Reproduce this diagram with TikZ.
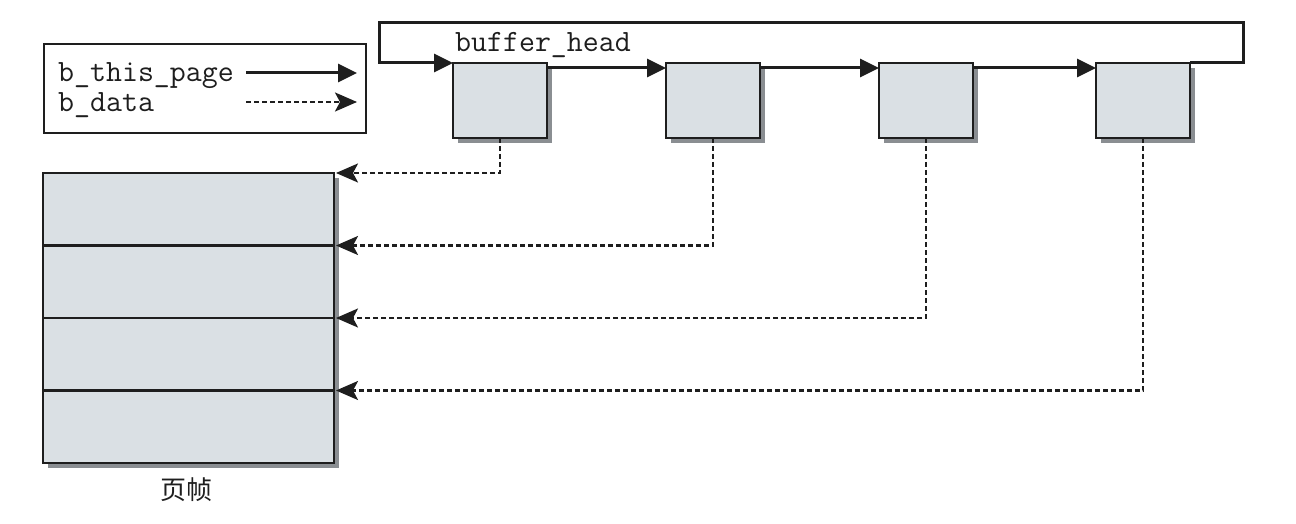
\documentclass[tikz,border=0pt]{standalone}
\usepackage{fontspec}
\newfontfamily\cjk{Noto Sans CJK SC}
\usetikzlibrary{arrows.meta,shadows,calc}
\definecolor{boxfill}{HTML}{DAE0E4}
\definecolor{shadowgray}{HTML}{8A8E92}
\definecolor{ink}{HTML}{1E1E1E}
\tikzset{
  bhbox/.style={draw=ink, line width=2.2pt, fill=boxfill, minimum width=94pt, minimum height=75pt, inner sep=0pt, outer sep=0pt,
    drop shadow={shadow xshift=5pt, shadow yshift=-5pt, opacity=1, fill=shadowgray}},
  rowbox/.style={draw=ink, line width=2.2pt, fill=boxfill, minimum width=291pt, minimum height=72.5pt, inner sep=0pt, outer sep=0pt},
  ptr/.style={draw=ink, line width=3pt, -{Triangle[length=19pt,width=18pt]}},
  dataptr/.style={draw=ink, line width=2.4pt, dash pattern=on 5pt off 3pt, -{Stealth[length=22pt,width=19pt,inset=5pt]}},
  monotext/.style={font=\ttfamily\fontsize{31}{34}\selectfont, inner sep=0pt, anchor=base west, text=ink},
}
\begin{document}
\begin{tikzpicture}[x=1pt,y=-1pt]
\useasboundingbox (0,0) rectangle (1296,524);
% legend
\node[draw=ink, line width=2pt, minimum width=322pt, minimum height=89pt, inner sep=0pt, anchor=north west] (legend) at (43,43) {};
\node[monotext] (lt1) at (58,82) {b\_this\_page};
\node[monotext] (lt2) at (58,112) {b\_data};
\coordinate (la1s) at (246,73);
\coordinate (la1e) at (357,73);
\coordinate (la2s) at (246,102);
\coordinate (la2e) at (357,102);
\draw[ptr] (la1s) -- (la1e);
\draw[dataptr] (la2s) -- (la2e);
% buffer heads
\node[bhbox, anchor=north west] (b1) at (453,63) {};
\node[bhbox, anchor=north west] (b2) at (666,63) {};
\node[bhbox, anchor=north west] (b3) at (879,63) {};
\node[bhbox, anchor=north west] (b4) at (1096,63) {};
\node[monotext] (bhlabel) at (455,52) {buffer\_head};
\draw[ptr] ([yshift=-5pt]b1.north east) -- ([yshift=-5pt]b2.north west);
\draw[ptr] ([yshift=-5pt]b2.north east) -- ([yshift=-5pt]b3.north west);
\draw[ptr] ([yshift=-5pt]b3.north east) -- ([yshift=-5pt]b4.north west);
\coordinate (lr) at (1243,23);
\coordinate (ll) at (379,23);
\draw[ptr] (b4.north east) -| (lr) -- (ll) |- (b1.north west);
% page frame
\fill[shadowgray] (48,178) rectangle (339,468);
\node[rowbox, anchor=north west] (r1) at (43,173) {};
\node[rowbox, anchor=north west] (r2) at (43,245.5) {};
\node[rowbox, anchor=north west] (r3) at (43,318) {};
\node[rowbox, anchor=north west] (r4) at (43,390.5) {};
\node[font=\cjk\fontsize{26}{28}\selectfont, text=ink, inner sep=0pt] (pf) at (186,490) {页帧};
% data pointers
\draw[dataptr] (b1.south) |- ([xshift=2pt]r1.north east);
\draw[dataptr] (b2.south) |- ([xshift=2pt]r2.north east);
\draw[dataptr] (b3.south) |- ([xshift=2pt]r3.north east);
\draw[dataptr] (b4.south) |- ([xshift=2pt]r4.north east);
\end{tikzpicture}
\end{document}
